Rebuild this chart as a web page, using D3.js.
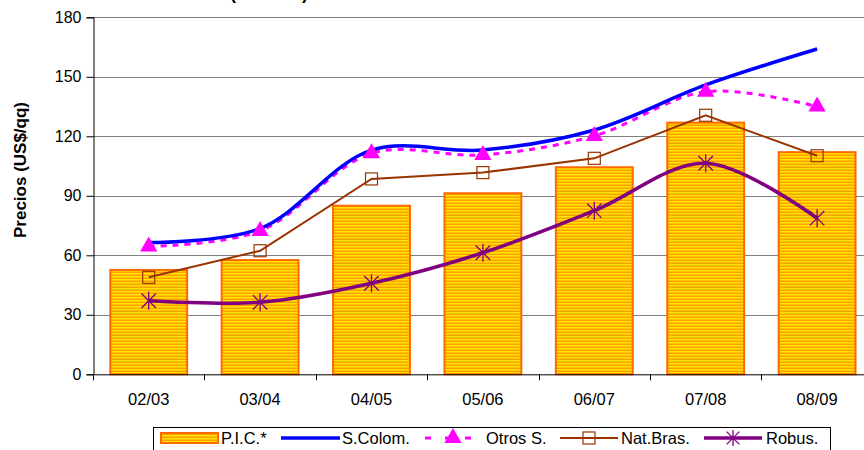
<!DOCTYPE html>
<html><head><meta charset="utf-8">
<script src="https://cdn.jsdelivr.net/npm/d3@7"></script>
<style>
html,body{margin:0;padding:0;background:#fff;}
svg{display:block;font-family:"Liberation Sans",Arial,sans-serif;}
</style></head>
<body><svg id="c" width="864" height="450"></svg>
<script>
const categories = ["02/03","03/04","04/05","05/06","06/07","07/08","08/09"];
const pic      = [52.6, 57.6, 85.0, 91.3, 104.4, 126.9, 112.0];
const sColom   = [66.4, 73.5, 113.0, 113.1, 123.2, 145.9, 164.0];
const otrosS   = [64.4, 72.3, 111.4, 110.6, 120.2, 142.5, 135.0];
const natBras  = [48.9, 62.3, 98.5, 101.7, 108.9, 130.6, 110.2];
const robus    = [37.1, 36.3, 45.9, 61.3, 82.5, 106.4, 78.7];
const yTicks   = [0, 30, 60, 90, 120, 150, 180];
const legendLabels = ["P.I.C.*", "S.Colom.", "Otros S.", "Nat.Bras.", "Robus."];
const titleText = "(2002-09)";
const yTitle = "Precios (US$/qq)";

const svg = d3.select("#c");
const L = 93, T = 17.3, B = 374.3, BW = 111.4;
const x = d3.scaleBand().domain(categories).range([L, L + BW*categories.length])
  .paddingInner(0.31).paddingOuter(0.155);
const xc = d => x(d) + x.bandwidth()/2;
const y = d3.scaleLinear().domain([0,180]).range([B, T]);

const defs = svg.append("defs");
const pat = defs.append("pattern").attr("id","stripes").attr("patternUnits","userSpaceOnUse")
  .attr("width",6).attr("height",3);
pat.append("rect").attr("width",6).attr("height",3).attr("fill","#FFE600");
pat.append("rect").attr("y",1.5).attr("width",6).attr("height",1.5).attr("fill","#FF9E00");

// title (cut off at top, as in the reference)
svg.append("text").attr("x",269).attr("y",-0.8).attr("text-anchor","middle")
  .attr("font-size",18).attr("font-weight","bold").text(titleText);

// gridlines
svg.append("g").selectAll("line").data(yTicks.filter(d=>d>0)).join("line")
  .attr("x1",L).attr("x2",874).attr("y1",d=>Math.round(y(d))+0.5).attr("y2",d=>Math.round(y(d))+0.5)
  .attr("stroke","#808080").attr("stroke-width",1);

// y axis
const yAxis = d3.axisLeft(y).tickValues(yTicks).tickSize(7).tickPadding(5);
const gy = svg.append("g").attr("transform",`translate(${L+0.5},0)`).call(yAxis);
gy.attr("font-size",16).attr("font-family","Liberation Sans, Arial");
gy.select(".domain").attr("stroke","#000");
gy.selectAll(".tick line").attr("stroke","#000");
gy.selectAll("text").attr("fill","#000");

// y title
svg.append("text").attr("transform","translate(26,170) rotate(-90)").attr("text-anchor","middle")
  .attr("font-size",17).attr("font-weight","bold").text(yTitle);

// bars
svg.append("g").selectAll("rect").data(categories).join("rect")
  .attr("x",d=>x(d)).attr("y",(d,i)=>y(pic[i])).attr("width",x.bandwidth())
  .attr("height",(d,i)=>B - y(pic[i]))
  .attr("fill","url(#stripes)").attr("stroke","#FF6A00").attr("stroke-width",2);

// x axis
const gx = svg.append("g").attr("transform",`translate(0,${B})`);
gx.append("line").attr("x1",L).attr("x2",874).attr("y1",0.5).attr("y2",0.5).attr("stroke","#000");
const xBounds = d3.range(categories.length+1).map(i => L + i*BW);
gx.selectAll("line.tk").data(xBounds).join("line").attr("class","tk")
  .attr("x1",d=>Math.round(d)+0.5).attr("x2",d=>Math.round(d)+0.5).attr("y1",0).attr("y2",6).attr("stroke","#000");
gx.selectAll("text").data(categories).join("text")
  .attr("x",d=>xc(d)).attr("y",31).attr("text-anchor","middle").attr("font-size",16.5).text(d=>d);

const smooth = d3.line().x((d,i)=>xc(categories[i])).y(d=>y(d)).curve(d3.curveCatmullRom.alpha(0.5));
const straight = d3.line().x((d,i)=>xc(categories[i])).y(d=>y(d));

// Nat.Bras
svg.append("path").attr("d",straight(natBras)).attr("fill","none").attr("stroke","#993300").attr("stroke-width",2);
svg.append("g").selectAll("rect").data(natBras).join("rect")
  .attr("x",(d,i)=>xc(categories[i])-6).attr("y",d=>y(d)-6).attr("width",12).attr("height",12)
  .attr("fill","none").attr("stroke","#993300").attr("stroke-width",1.2);

// Robus
svg.append("path").attr("d",smooth(robus)).attr("fill","none").attr("stroke","#800080").attr("stroke-width",3.5);
function star(g, cx, cy, r, color){
  const a = r*0.8;
  g.append("path").attr("d",`M${cx},${cy-r}L${cx},${cy+r}M${cx-a},${cy-a}L${cx+a},${cy+a}M${cx-a},${cy+a}L${cx+a},${cy-a}`)
    .attr("stroke",color).attr("stroke-width",1.3).attr("fill","none");
}
const gs = svg.append("g");
robus.forEach((d,i)=>star(gs, xc(categories[i]), y(d), 9, "#800080"));

// Otros S.
svg.append("path").attr("d",smooth(otrosS)).attr("fill","none").attr("stroke","#FF00FF").attr("stroke-width",3)
  .attr("stroke-dasharray","6,6");
// S.Colom
svg.append("path").attr("d",smooth(sColom)).attr("fill","none").attr("stroke","#0000FF").attr("stroke-width",3.5);
const tri = d3.symbol().type(d3.symbolTriangle).size(130);
svg.append("g").selectAll("path").data(otrosS).join("path")
  .attr("transform",(d,i)=>`translate(${xc(categories[i])},${y(d)})`).attr("d",tri).attr("fill","#FF00FF");

// legend
const lg = svg.append("g");
lg.append("rect").attr("x",153.5).attr("y",427.5).attr("width",677).attr("height",26)
  .attr("fill","#fff").attr("stroke","#000");
const ly = 438;
const lx = [160, 281, 425, 560, 704];
const tx = [221, 342, 486, 621, 766];
lg.append("rect").attr("x",lx[0]+1).attr("y",ly-5).attr("width",57).attr("height",10)
  .attr("fill","url(#stripes)").attr("stroke","#FF6A00").attr("stroke-width",2);
lg.append("line").attr("x1",lx[1]).attr("x2",lx[1]+59).attr("y1",ly).attr("y2",ly).attr("stroke","#0000FF").attr("stroke-width",3.5);
lg.append("line").attr("x1",lx[2]).attr("x2",lx[2]+56).attr("y1",ly).attr("y2",ly).attr("stroke","#FF00FF").attr("stroke-width",3).attr("stroke-dasharray","6,14");
lg.append("path").attr("transform",`translate(${lx[2]+28},${ly})`).attr("d",tri).attr("fill","#FF00FF");
lg.append("line").attr("x1",lx[3]).attr("x2",lx[3]+58).attr("y1",ly).attr("y2",ly).attr("stroke","#993300").attr("stroke-width",2);
lg.append("rect").attr("x",lx[3]+23).attr("y",ly-6).attr("width",12).attr("height",12).attr("fill","none").attr("stroke","#993300").attr("stroke-width",1.2);
lg.append("line").attr("x1",lx[4]).attr("x2",lx[4]+58).attr("y1",ly).attr("y2",ly).attr("stroke","#800080").attr("stroke-width",3.5);
star(lg, lx[4]+29, ly, 8, "#800080");
lg.selectAll("text.l").data(legendLabels).join("text").attr("class","l")
  .attr("x",(d,i)=>tx[i]).attr("y",ly+6).attr("font-size",16.5).text(d=>d);
</script></body></html>
